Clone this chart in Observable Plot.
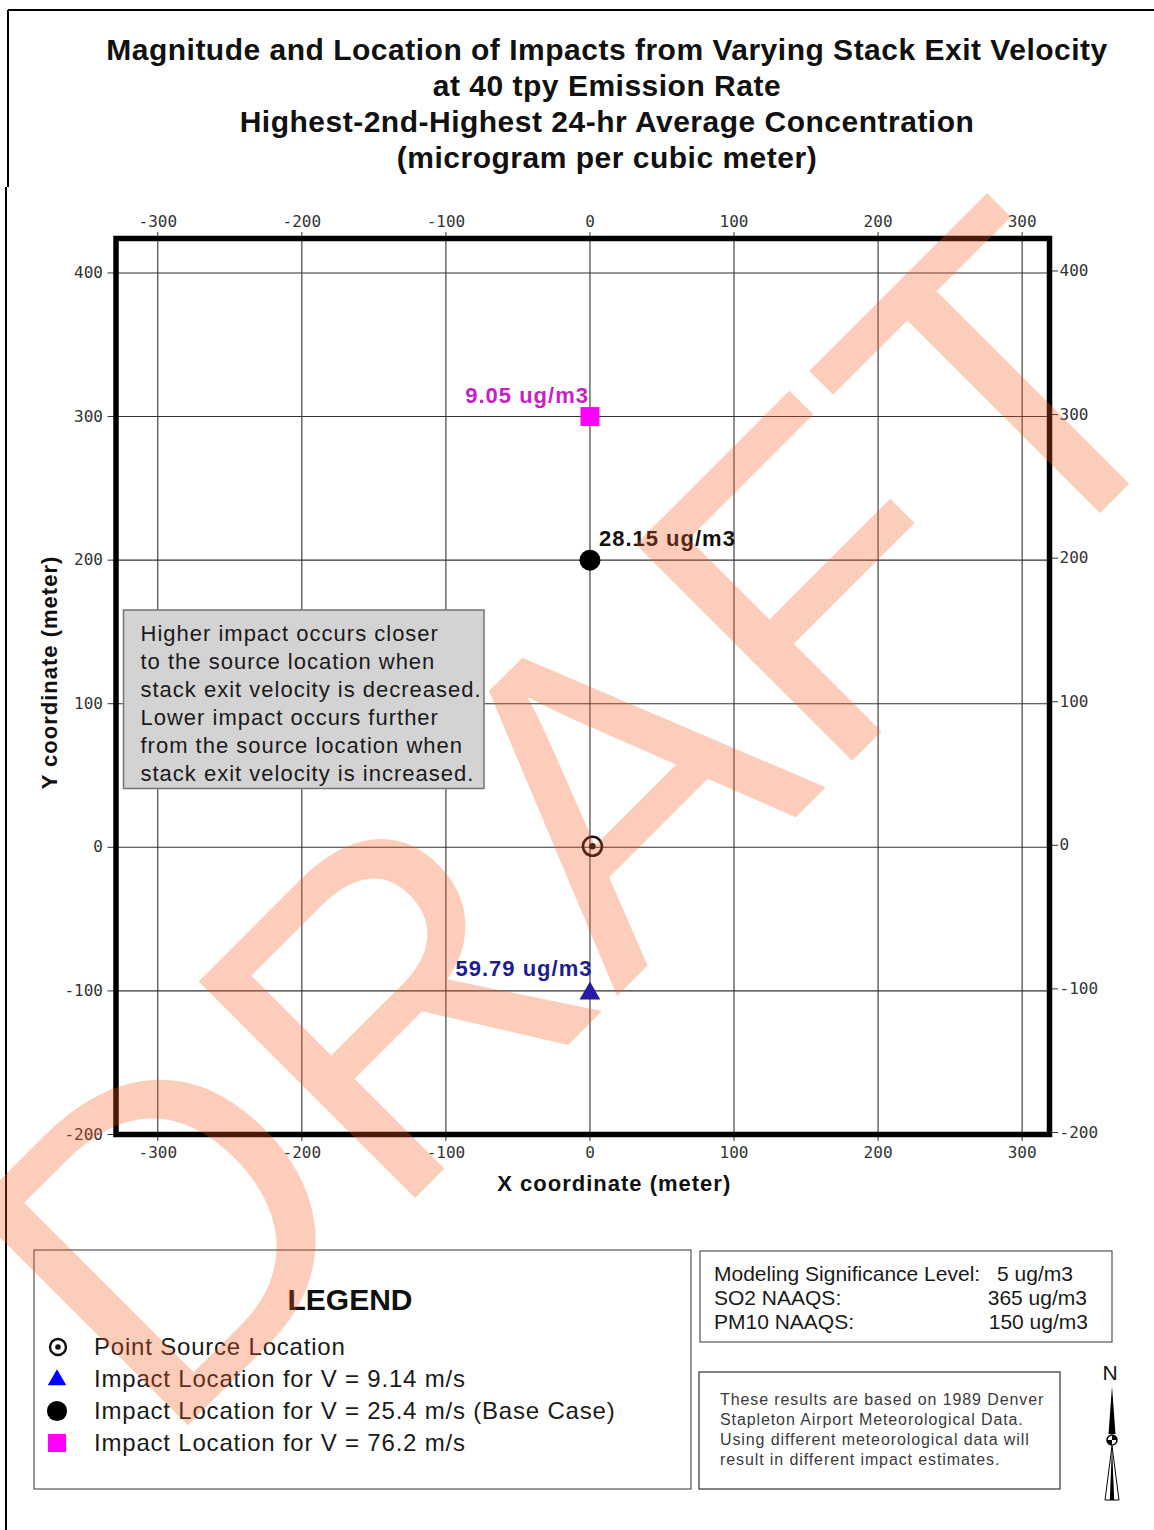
<!DOCTYPE html>
<html><head><meta charset="utf-8">
<title>Magnitude and Location of Impacts</title>
<script src="https://cdn.jsdelivr.net/npm/d3@7"></script>
<script src="https://cdn.jsdelivr.net/npm/@observablehq/plot@0.6"></script>
<style>
html,body{margin:0;padding:0;background:#fff;}
#page{position:relative;width:1154px;height:1530px;overflow:hidden;background:#fff;}
#decor,#over,#draft{position:absolute;left:0;top:0;}
#plot{position:absolute;left:0;top:190px;}
#plot svg{background:transparent;overflow:visible;}
#plot g[aria-label="text"] text{letter-spacing:1px;}
#draft{pointer-events:none;}
</style></head><body>
<div id="page">
<svg id="decor" width="1154" height="1530"></svg>
<div id="plot"></div>
<svg id="over" width="1154" height="1530"></svg>
<svg id="draft" width="1154" height="1530"></svg>
</div>
<script>
// ---- data ----
const titleLines = [
  "Magnitude and Location of Impacts from Varying Stack Exit Velocity",
  "at 40 tpy Emission Rate",
  "Highest-2nd-Highest 24-hr Average Concentration",
  "(microgram per cubic meter)"
];
const xTicks = [-300, -200, -100, 0, 100, 200, 300];
const yTicks = [-200, -100, 0, 100, 200, 300, 400];
const xDomain = [-329, 319];
const yDomain = [-200, 424];
const xLabel = "X coordinate (meter)";
const yLabel = "Y coordinate (meter)";
const sourceX = [0];
const sourceY = [0];
const cases = ["V = 9.14 m/s", "V = 25.4 m/s (Base Case)", "V = 76.2 m/s"];
const impactX = [0, 0, 0];
const impactY = [-100, 200, 300];
const concentration = [59.79, 28.15, 9.05];
const unit = "ug/m3";
const noteLines = [
  "Higher impact occurs closer",
  "to the source location when",
  "stack exit velocity is decreased.",
  "Lower impact occurs further",
  "from the source location when",
  "stack exit velocity is increased."
];
const standardNames = ["Modeling Significance Level:", "SO2 NAAQS:", "PM10 NAAQS:"];
const standardValues = ["5 ug/m3", "365 ug/m3", "150 ug/m3"];
const metLines = [
  "These results are based on 1989 Denver",
  "Stapleton Airport Meteorological Data.",
  "Using different meteorological data will",
  "result in different impact estimates."
];
const legendTitle = "LEGEND";
const sourceLegend = "Point Source Location";
const watermark = "DRAFT";

// ---- styles ----
const SANS = "'Liberation Sans', Arial, Helvetica, sans-serif";
const look = {
  "V = 9.14 m/s": {symbol: "triangle", fill: "#2a1aa3", legendFill: "#0000ff", r: 7.7, dy: 2.5, text: "#1d1d8f", anchor: "end", tdx: 2.5, tdy: -22.3},
  "V = 25.4 m/s (Base Case)": {symbol: "circle", fill: "#000000", legendFill: "#000000", r: 10.5, dy: 0, text: "#111111", anchor: "start", tdx: 9, tdy: -20.8},
  "V = 76.2 m/s": {symbol: "square", fill: "#ff00ff", legendFill: "#ff00ff", r: 10.7, dy: 0, text: "#c81ec8", anchor: "end", tdx: -1, tdy: -20.6}
};

const impacts = cases.map((c, i) => ({case: c, x: impactX[i], y: impactY[i], conc: concentration[i]}));
const sources = sourceX.map((x, i) => ({x, y: sourceY[i]}));
const fmt = d => String(d);

const impactMarks = cases.flatMap(c => {
  const s = look[c];
  const rows = impacts.filter(d => d.case === c);
  return [
    Plot.dot(rows, {x: "x", y: "y", symbol: s.symbol, r: s.r, fill: s.fill, stroke: "none", dy: s.dy}),
    Plot.text(rows, {x: "x", y: "y", text: d => `${d3.format(".2f")(d.conc)} ${unit}`,
      textAnchor: s.anchor, dx: s.tdx, dy: s.tdy, fill: s.text,
      fontFamily: SANS, fontWeight: "bold", fontSize: 22})
  ];
});

const chart = Plot.plot({
  width: 1154, height: 1020,
  marginLeft: 115.5, marginRight: 105, marginTop: 48, marginBottom: 76,
  x: {domain: xDomain},
  y: {domain: yDomain},
  style: {fontFamily: "'DejaVu Sans Mono', monospace", fontSize: "16px", color: "#333", background: "transparent", overflow: "visible"},
  marks: [
    Plot.gridX(xTicks, {stroke: "#333", strokeOpacity: 1, strokeWidth: 1.1}),
    Plot.gridY(yTicks, {stroke: "#333", strokeOpacity: 1, strokeWidth: 1.1}),
    Plot.axisX(xTicks, {anchor: "top", tickSize: 7, tickPadding: 4.5, tickFormat: fmt, label: null, color: "#333"}),
    Plot.axisX(xTicks, {anchor: "bottom", tickSize: 7, tickPadding: 5, tickFormat: fmt, label: null, color: "#333"}),
    Plot.axisY(yTicks, {anchor: "left", tickSize: 8, tickPadding: 5, tickFormat: fmt, label: null, color: "#333"}),
    Plot.axisY(yTicks, {anchor: "right", tickSize: 8, tickPadding: 2, dy: -2, tickFormat: fmt, label: null, color: "#333"}),
    Plot.frame({stroke: "#000", strokeWidth: 5.5}),
    Plot.dot(sources, {x: "x", y: "y", r: 9.5, stroke: "#111", strokeWidth: 2.6, fill: "none", dx: 2.5, dy: -1}),
    Plot.dot(sources, {x: "x", y: "y", r: 3.2, fill: "#111", dx: 2.5, dy: -1}),
    ...impactMarks,
    Plot.text([xLabel], {text: d => d, frameAnchor: "bottom", textAnchor: "middle", lineAnchor: "middle",
      dx: 31.5, dy: 49, fill: "#111", fontFamily: SANS, fontWeight: "bold", fontSize: 22}),
    Plot.text([yLabel], {text: d => d, frameAnchor: "left", textAnchor: "middle", lineAnchor: "middle",
      rotate: -90, dx: -66, dy: -14, fill: "#111", fontFamily: SANS, fontWeight: "bold", fontSize: 22})
  ]
});
document.getElementById("plot").appendChild(chart);

// ---- decorations (title, legend, notes) ----
const decor = d3.select("#decor").style("font-family", SANS);
decor.append("path").attr("d", "M8,10H1154M8,10V187M6,187V1530").attr("stroke", "#000").attr("stroke-width", 2).attr("fill", "none");
decor.selectAll("text.title").data(titleLines).join("text")
  .attr("x", 607).attr("y", (d, i) => 60 + i * 36)
  .attr("text-anchor", "middle").attr("font-size", 30).attr("font-weight", "bold")
  .attr("letter-spacing", 0.5).attr("fill", "#111").text(d => d);

// Legend box
decor.append("rect").attr("x", 34).attr("y", 1250).attr("width", 657).attr("height", 239)
  .attr("fill", "none").attr("stroke", "#555").attr("stroke-width", 1.2);
decor.append("text").attr("x", 350).attr("y", 1310).attr("text-anchor", "middle")
  .attr("font-size", 30).attr("font-weight", "bold").attr("fill", "#111").text(legendTitle);
const legendRows = [sourceLegend, ...cases.map(c => "Impact Location for " + c)];
decor.selectAll("text.leg").data(legendRows).join("text")
  .attr("x", 94).attr("y", (d, i) => 1355 + i * 32)
  .attr("font-size", 24).attr("letter-spacing", 0.8).attr("fill", "#1a1a1a").text(d => d);
// legend icons
const ly = i => 1347 + i * 32;
decor.append("circle").attr("cx", 58).attr("cy", ly(0)).attr("r", 8).attr("fill", "none").attr("stroke", "#111").attr("stroke-width", 2.4);
decor.append("circle").attr("cx", 58).attr("cy", ly(0)).attr("r", 2.8).attr("fill", "#111");
cases.forEach((c, i) => {
  const s = look[c];
  const sym = {triangle: d3.symbolTriangle, circle: d3.symbolCircle, square: d3.symbolSquare}[s.symbol];
  const size = {triangle: 150, circle: 320, square: 330}[s.symbol];
  decor.append("path").attr("d", d3.symbol(sym, size)())
    .attr("transform", `translate(57,${ly(i + 1) + (s.symbol === "triangle" ? 1 : 0)})`)
    .attr("fill", s.legendFill);
});

// Standards box
decor.append("rect").attr("x", 700).attr("y", 1251).attr("width", 412).attr("height", 91)
  .attr("fill", "none").attr("stroke", "#555").attr("stroke-width", 1.2);
decor.selectAll("text.stdn").data(standardNames).join("text")
  .attr("x", 714).attr("y", (d, i) => 1281 + i * 24).attr("font-size", 21).attr("fill", "#1a1a1a").text(d => d);
const valueEnds = [1073, 1087, 1088];
decor.selectAll("text.stdv").data(standardValues).join("text")
  .attr("x", (d, i) => valueEnds[i]).attr("y", (d, i) => 1281 + i * 24).attr("text-anchor", "end")
  .attr("font-size", 21).attr("fill", "#1a1a1a").text(d => d);

// Met data box
decor.append("rect").attr("x", 699).attr("y", 1372).attr("width", 361).attr("height", 117)
  .attr("fill", "none").attr("stroke", "#333").attr("stroke-width", 1.2);
decor.selectAll("text.met").data(metLines).join("text")
  .attr("x", 720).attr("y", (d, i) => 1405 + i * 20).attr("font-size", 16).attr("letter-spacing", 0.9)
  .attr("fill", "#3a3a3a").text(d => d);

// North arrow
decor.append("text").attr("x", 1110).attr("y", 1380).attr("text-anchor", "middle").attr("font-size", 21).attr("fill", "#111").text("N");
decor.append("path").attr("d", "M1112,1386L1115.5,1434L1108.5,1434Z").attr("fill", "#000");
decor.append("path").attr("d", "M1112,1446L1119,1500L1105,1500Z").attr("fill", "#fff").attr("stroke", "#000").attr("stroke-width", 1);
decor.append("path").attr("d", "M1112,1446L1114.2,1500L1109.8,1500Z").attr("fill", "#000");
decor.append("circle").attr("cx", 1112).attr("cy", 1440).attr("r", 5).attr("fill", "#fff").attr("stroke", "#000").attr("stroke-width", 1.5);
decor.append("path").attr("d", "M1112,1440L1112,1435A5,5 0 0 1 1117,1440Z M1112,1440L1112,1445A5,5 0 0 1 1107,1440Z").attr("fill", "#000");

// ---- annotation box over the plot ----
const over = d3.select("#over").style("font-family", SANS);
over.append("rect").attr("x", 123.5).attr("y", 610).attr("width", 360.5).attr("height", 178.5)
  .attr("fill", "#d3d3d3").attr("stroke", "#737373").attr("stroke-width", 1.5);
over.selectAll("text.note").data(noteLines).join("text")
  .attr("x", 140.5).attr("y", (d, i) => 641 + i * 27.9).attr("font-size", 22).attr("letter-spacing", 1)
  .attr("fill", "#1a1a1a").text(d => d);

// ---- watermark ----
d3.select("#draft").append("text")
  .attr("transform", "translate(162,1451) rotate(-45)")
  .attr("font-family", SANS).attr("font-weight", "normal").attr("font-size", 445)
  .attr("fill", "rgb(250,90,30)").attr("fill-opacity", 0.3).text(watermark);
</script>
</body></html>
